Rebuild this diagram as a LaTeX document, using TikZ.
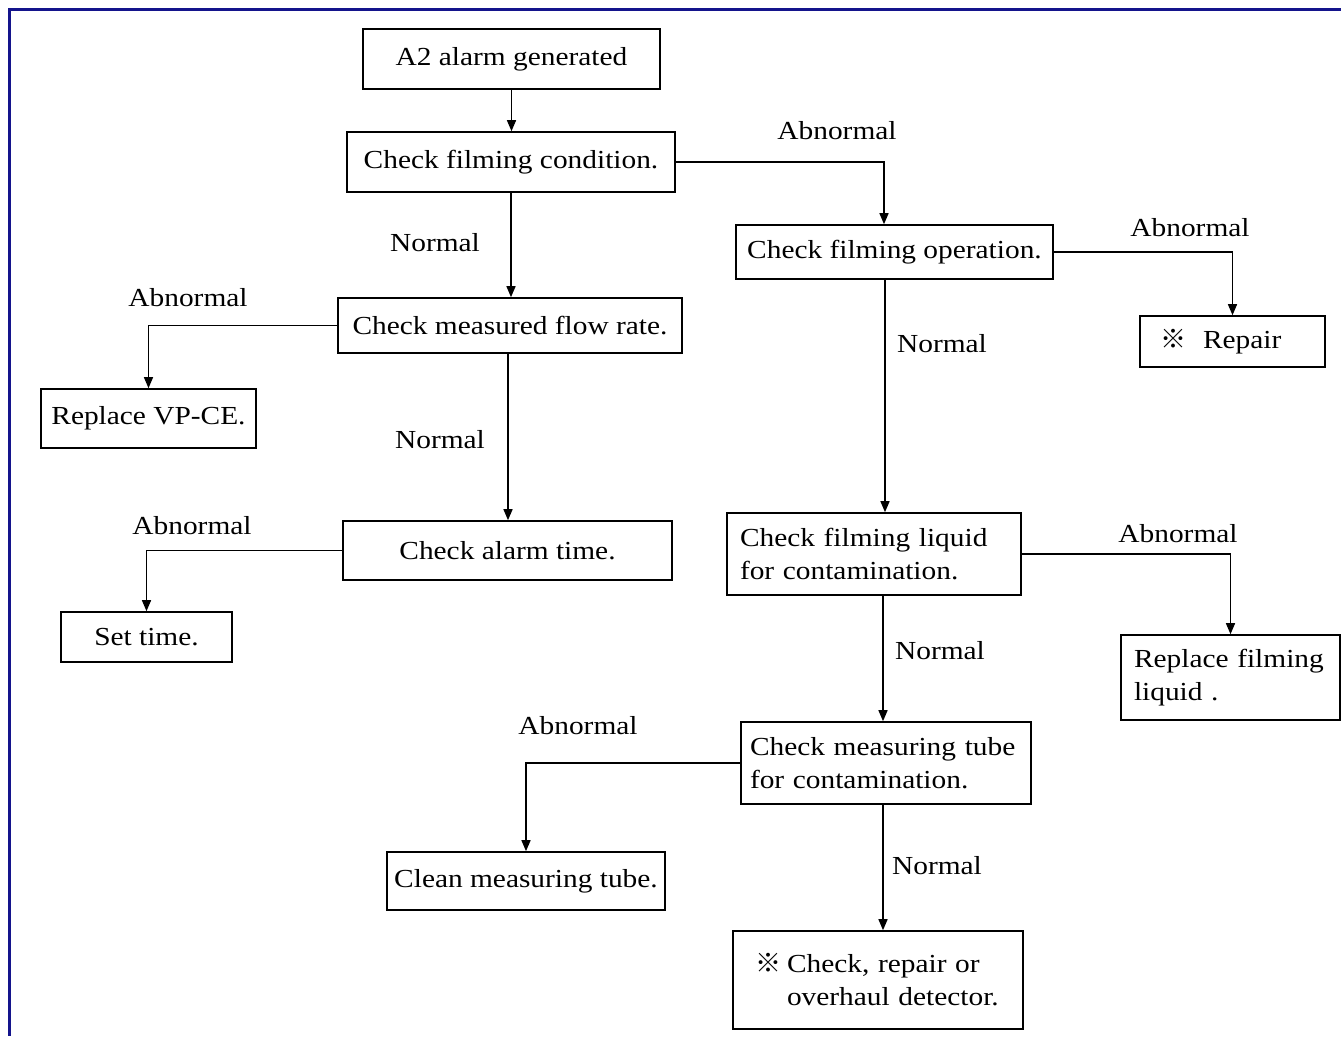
\documentclass[tikz,border=0pt]{standalone}
\usepackage{fontspec}
\setmainfont{Liberation Serif}[FakeStretch=1.13]
\newfontfamily\cjk{Noto Sans CJK JP}
\usetikzlibrary{arrows.meta}
\definecolor{bordernavy}{RGB}{20,20,140}
\begin{document}
\begin{tikzpicture}[x=1pt,y=-1pt,
  box/.style={draw, line width=1.6pt, inner sep=0pt, font=\fontsize{26}{33}\selectfont},
  mbox/.style={box, align=left},
  lbl/.style={font=\fontsize{26}{33}\selectfont, inner sep=0pt},
  arr/.style={line width=1.4pt, -{Triangle[length=11pt,width=9pt]}}]
\useasboundingbox (0,0) rectangle (1341,1036);
\draw[bordernavy, line width=3pt] (1341,9) -- (9,9) -- (9,1036);

\node[box, minimum width=297pt, minimum height=60pt] (a2) at (511.5,59) {A2 alarm generated};
\node[box, minimum width=328pt, minimum height=60pt] (fc) at (511,162) {Check filming condition.};
\node[box, minimum width=317pt, minimum height=54pt] (fo) at (894.5,252) {Check filming operation.};
\node[mbox, inner xsep=20pt, text width=145pt, minimum height=51pt] (rep) at (1232.5,341.5) {\mbox{\makebox[43pt][l]{\cjk ※}Repair}};
\node[box, minimum width=344pt, minimum height=55pt] (mf) at (510,325.5) {Check measured flow rate.};
\node[box, minimum width=215pt, minimum height=59pt] (vp) at (148.5,418.5) {Replace VP-CE.};
\node[box, minimum width=329pt, minimum height=59pt] (at) at (507.5,550.5) {Check alarm time.};
\node[box, minimum width=171pt, minimum height=50pt] (st) at (146.5,637) {Set time.};
\node[mbox, inner xsep=13pt, text width=268pt, minimum height=82pt] (fl) at (874,554) {\mbox{Check filming liquid}\\\mbox{for contamination.}};
\node[mbox, inner xsep=13pt, text width=193pt, minimum height=85pt] (rfl) at (1230.5,677.5) {\mbox{Replace filming}\\\mbox{liquid .}};
\node[mbox, inner xsep=9pt, text width=272pt, minimum height=82pt] (mt) at (886,763) {\mbox{Check measuring tube}\\\mbox{for contamination.}};
\node[box, minimum width=278pt, minimum height=58pt] (cl) at (526,881) {Clean measuring tube.};
\node[mbox, inner xsep=22pt, text width=246pt, minimum height=98pt] (det) at (878,980) {\mbox{\makebox[32pt][l]{\cjk ※}Check, repair or}\\\mbox{\hspace*{32pt}overhaul detector.}};

\draw[arr] (a2.south) -- (a2.south |- fc.north);
\draw[arr] (fc.east) -| ([xshift=-10.5pt]fo.north);
\draw[arr] (fc.south) -- (fc.south |- mf.north);
\draw[arr] (mf.west) -| (vp.north);
\draw[arr] ([xshift=-2pt]mf.south) -- ([xshift=-2pt]mf.south |- at.north);
\draw[arr] (at.west) -| (st.north);
\draw[arr] (fo.east) -| (rep.north);
\draw[arr] ([xshift=-9.5pt]fo.south) -- ([xshift=-9.5pt]fo.south |- fl.north);
\draw[arr] (fl.east) -| (rfl.north);
\draw[arr] ([xshift=9pt]fl.south) -- ([xshift=9pt]fl.south |- mt.north);
\draw[arr] (mt.west) -| (cl.north);
\draw[arr] ([xshift=-3pt]mt.south) -- ([xshift=-3pt]mt.south |- det.north);

\node[lbl] (l1) at (837,131) {Abnormal};
\node[lbl] (l2) at (435,243) {Normal};
\node[lbl] (l3) at (188,298) {Abnormal};
\node[lbl] (l4) at (440,440) {Normal};
\node[lbl] (l5) at (192,526) {Abnormal};
\node[lbl] (l6) at (1190,228) {Abnormal};
\node[lbl] (l7) at (942,344) {Normal};
\node[lbl] (l8) at (1178,534) {Abnormal};
\node[lbl] (l9) at (940,651) {Normal};
\node[lbl] (l10) at (578,726) {Abnormal};
\node[lbl] (l11) at (937,866) {Normal};
\end{tikzpicture}
\end{document}
